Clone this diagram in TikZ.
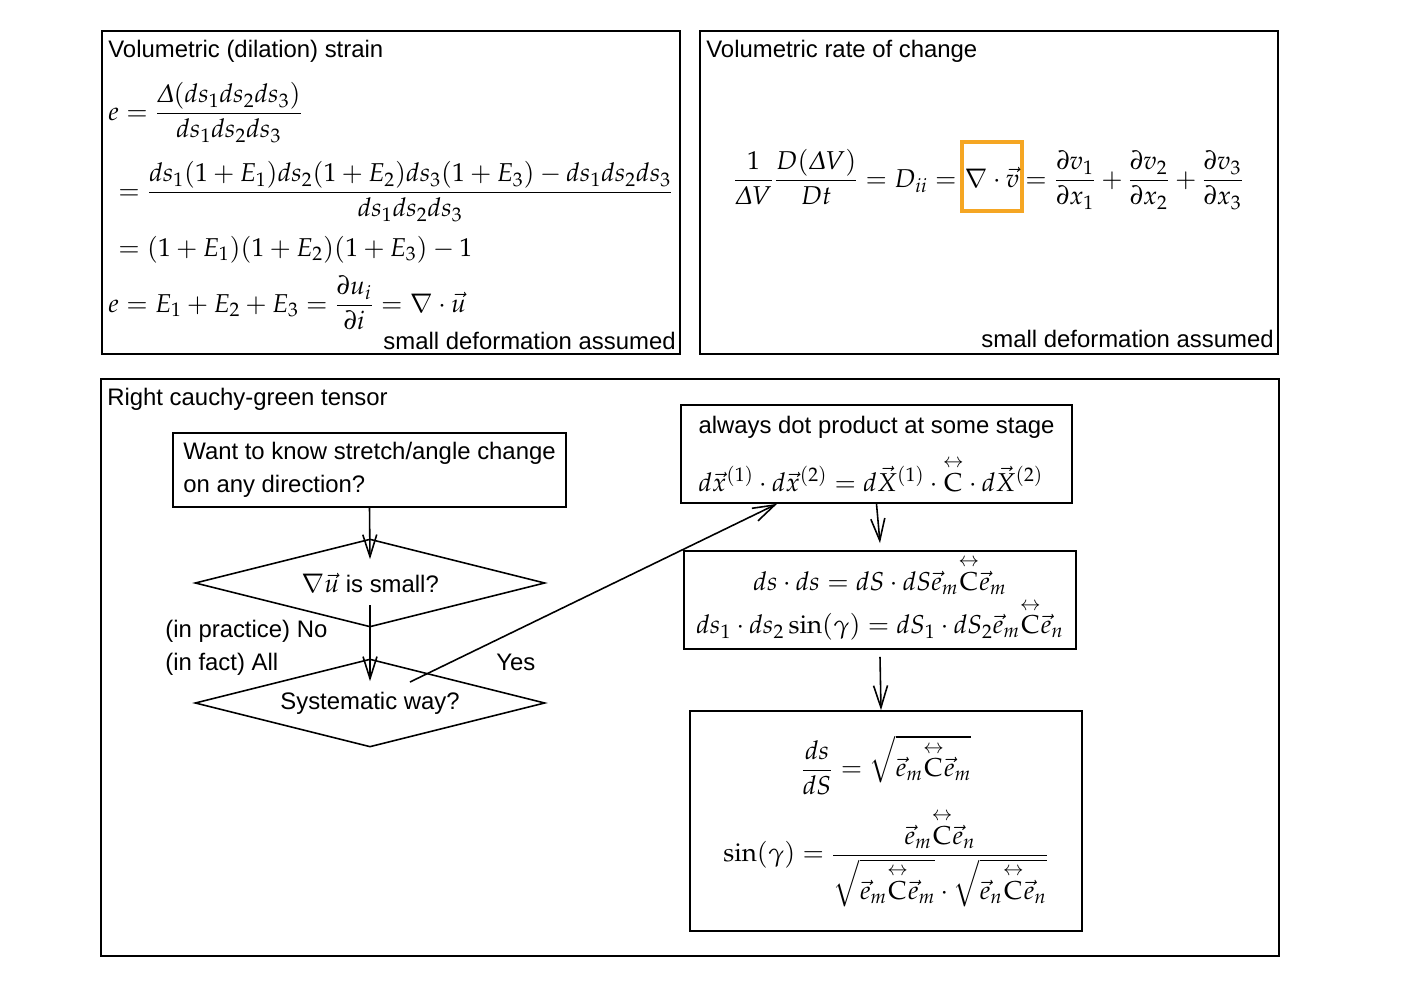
\documentclass[tikz,border=0pt]{standalone}
\usepackage{amsmath}
\usepackage[slantedGreek]{mathpazo}
\usepackage[no-math]{fontspec}
\setmainfont{Liberation Sans}
\usetikzlibrary{positioning, arrows.meta, shapes.geometric}
\usepackage{xcolor}
\definecolor{hilite}{RGB}{245,166,35}

\newcommand{\tC}{\overset{\leftrightarrow}{\mathrm{C}}}
\newcommand{\eqsz}{\fontsize{14.7}{17.6}\selectfont}

\begin{document}
\begin{tikzpicture}[x=0.02cm, y=-0.02cm,
    font=\fontsize{13.6}{16}\selectfont,
    frame/.style={rectangle, draw, line width=1.1pt, inner sep=0pt},
    title/.style={anchor=base west, inner sep=0pt},
    eq/.style={font=\eqsz, inner sep=0pt},
    proc/.style={rectangle, draw, line width=1pt, inner sep=0pt},
    decision/.style={diamond, draw, line width=0.9pt, aspect=4,
                     minimum width=7cm, minimum height=1.76cm, inner sep=0pt},
    flow/.style={-{Straight Barb[length=4.4mm, width=2.8mm]}, line width=0.9pt},
]
\useasboundingbox (0,0) rectangle (1402,984);

% ─── Volumetric (dilation) strain ────────────────────────────────
\node[frame, minimum width=11.56cm, minimum height=6.46cm] (strain) at (391,192.5) {};
\node[title] (straint) at (108,57) {Volumetric (dilation) strain};
\node[eq, anchor=base west] (eqa) at (108,120)
  {$\displaystyle e=\frac{\Delta(ds_1ds_2ds_3)}{ds_1ds_2ds_3}$};
\node[eq, anchor=base west] (eqb) at (118,199)
  {$\displaystyle =\frac{ds_1(1+E_1)ds_2(1+E_2)ds_3(1+E_3)-ds_1ds_2ds_3}{ds_1ds_2ds_3}$};
\node[eq, anchor=base west] (eqc) at (118,256)
  {$=(1+E_1)(1+E_2)(1+E_3)-1$};
\node[eq, anchor=base west] (eqd) at (108,312)
  {$\displaystyle e=E_1+E_2+E_3=\frac{\partial u_i}{\partial i}=\nabla\cdot\vec{u}$};
\node[title, anchor=base east] (straina) at (676,349) {small deformation assumed};

% ─── Volumetric rate of change ───────────────────────────────────
\node[frame, minimum width=11.56cm, minimum height=6.46cm] (rate) at (989,192.5) {};
\node[title] (ratet) at (706,57) {Volumetric rate of change};
\node[eq, draw=hilite, line width=0.08cm, minimum width=1.2cm,
      text height=0.9cm, text depth=0.48cm, anchor=base] (divv) at (992,187)
  {$\nabla\cdot\vec{v}$};
\node[eq, anchor=base east] (rateL) at ([xshift=-0.06cm]divv.base west)
  {$\displaystyle \frac{1}{\Delta V}\frac{D(\Delta V)}{Dt}=D_{ii}=$};
\node[eq, anchor=base west] (rateR) at ([xshift=0.02cm]divv.base east)
  {$\displaystyle =\frac{\partial v_1}{\partial x_1}+\frac{\partial v_2}{\partial x_2}+\frac{\partial v_3}{\partial x_3}$};
\node[title, anchor=base east] (ratea) at (1274,347) {small deformation assumed};

% ─── Right Cauchy-Green tensor ───────────────────────────────────
\node[frame, minimum width=23.56cm, minimum height=11.54cm] (cauchy) at (690,667.5) {};
\node[title] (cauchyt) at (107,405) {Right cauchy-green tensor};

\node[proc, minimum width=7.86cm, minimum height=1.48cm, align=left,
      font=\fontsize{13.6}{18.8}\selectfont] (want) at (369.5,470)
  {Want to know stretch/angle change\\on any direction?};
\node[decision] (small) at (370,583) {{\eqsz$\nabla\vec{u}$} is small?};
\node[decision] (syst) at (370,703) {Systematic way?};

\node[title] (no) at (165,637) {(in practice) No};
\node[title] (all) at (165,670) {(in fact) All};
\node[title] (yes) at (496,670) {Yes};

\node[proc, minimum width=7.82cm, minimum height=1.96cm, align=left] (dot) at (876.5,454)
  {always dot product at some stage\\[10pt]
   {\eqsz$d\vec{x}^{(1)}\cdot d\vec{x}^{(2)}=d\vec{X}^{(1)}\cdot\tC\cdot d\vec{X}^{(2)}$}};

\node[proc, minimum width=7.84cm, minimum height=1.96cm, font=\eqsz] (stretch) at (880,600)
  {$\begin{gathered}
     ds\cdot ds=dS\cdot dS\vec{e}_m\tC\vec{e}_m\\[-3.5pt]
     ds_1\cdot ds_2\sin(\gamma)=dS_1\cdot dS_2\vec{e}_m\tC\vec{e}_n
   \end{gathered}$};

\node[proc, minimum width=7.84cm, minimum height=4.4cm, font=\eqsz] (result) at (886,821)
  {$\begin{gathered}
     \frac{ds}{dS}=\sqrt{\vec{e}_m\tC\vec{e}_m}\\[5pt]
     \sin(\gamma)=\frac{\vec{e}_m\tC\vec{e}_n}{\sqrt{\vec{e}_m\tC\vec{e}_m}\cdot\sqrt{\vec{e}_n\tC\vec{e}_n}}
   \end{gathered}$};

\draw[flow] (want.south) -- ([yshift=-0.42cm]small.north);
\draw[flow] ([yshift=-0.44cm]small.center) -- ([yshift=-0.46cm]syst.north);
\draw[flow] ([xshift=0.8cm, yshift=0.42cm]syst.center) -- ([xshift=-1.99cm]dot.south);
\draw[flow] (dot.south) -- ([yshift=0.14cm]stretch.north);
\draw[flow] ([yshift=-0.14cm]stretch.south) -- ([xshift=-0.1cm]result.north);

\end{tikzpicture}
\end{document}
